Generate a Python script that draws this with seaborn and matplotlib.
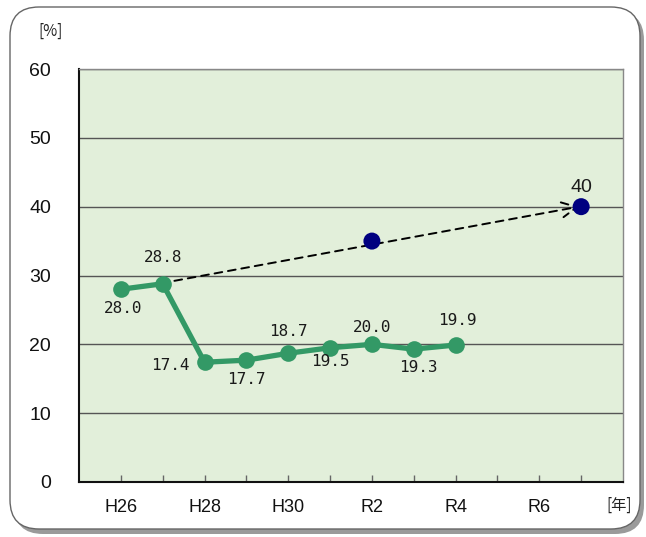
import matplotlib
matplotlib.use("Agg")
import matplotlib.pyplot as plt
from matplotlib.patches import FancyBboxPatch
import seaborn as sns
import pandas as pd

# ---- data ----
years = ["H26", "H27", "H28", "H29", "H30", "R1", "R2", "R3", "R4", "R5", "R6", "R7"]
actual_years = ["H26", "H27", "H28", "H29", "H30", "R1", "R2", "R3", "R4"]
actual_values = [28.0, 28.8, 17.4, 17.7, 18.7, 19.5, 20.0, 19.3, 19.9]
actual_labels = ["28.0", "28.8", "17.4", "17.7", "18.7", "19.5", "20.0", "19.3", "19.9"]
target_years = ["R2", "R7"]
target_values = [35, 40]
tick_labels = ["H26", "", "H28", "", "H30", "", "R2", "", "R4", "", "R6", ""]
y_ticks = [0, 10, 20, 30, 40, 50, 60]

# label placement (offsets in points)
label_offsets = [(2, -14), (0, 19), (-25, -2), (0, -14), (0, 16), (0, -10), (0, 12), (3, -13), (1, 18)]

idx = {y: i for i, y in enumerate(years)}
df_act = pd.DataFrame({"x": [idx[y] for y in actual_years], "v": actual_values})
df_tgt = pd.DataFrame({"x": [idx[y] for y in target_years], "v": target_values})

sns.set_theme(style="white")
plt.rcParams["font.family"] = ["Liberation Sans Narrow", "Liberation Sans", "DejaVu Sans"]

W, H = 646, 537
fig = plt.figure(figsize=(W / 100, H / 100), dpi=100)
fig.patch.set_facecolor("white")

# rounded frame with shadow
shadow = FancyBboxPatch((14 / W, 3 / H), 630 / W, 523 / H,
                        boxstyle="round,pad=0,rounding_size=0.045",
                        transform=fig.transFigure, facecolor="#9a9a9a", edgecolor="none",
                        mutation_aspect=W / H, zorder=0)
fig.patches.append(shadow)
frame = FancyBboxPatch((10 / W, 8 / H), 630 / W, 522 / H,
                       boxstyle="round,pad=0,rounding_size=0.045",
                       transform=fig.transFigure, facecolor="white", edgecolor="#666666",
                       linewidth=1.0, mutation_aspect=W / H, zorder=1)
fig.patches.append(frame)

ax = fig.add_axes([79 / W, (H - 482) / H, (623 - 79) / W, (482 - 69) / H])
ax.set_zorder(2)
ax.set_facecolor("#E2EFDA")

ax.set_xlim(-1, 12)
ax.set_ylim(0, 60)
ax.set_yticks(y_ticks)
ax.yaxis.grid(True, color="#555555", linewidth=1.0)
ax.set_axisbelow(True)

# dashed target arrow
ax.annotate("", xy=(idx["R7"] - 0.05, 40), xytext=(idx["H26"], 27.8),
            arrowprops=dict(arrowstyle="->,head_length=0.9,head_width=0.45", linestyle=(0, (4, 3)),
                            color="black", linewidth=1.4, shrinkA=0, shrinkB=0), zorder=3)

sns.lineplot(data=df_act, x="x", y="v", ax=ax, color="#339966", linewidth=3.8,
             marker="o", markersize=12, markeredgewidth=0, zorder=4)
sns.scatterplot(data=df_tgt, x="x", y="v", ax=ax, color="#000080", s=150,
                edgecolor="none", zorder=5)

for x, v, lab, off in zip(df_act["x"], actual_values, actual_labels, label_offsets):
    ax.annotate(lab, (x, v), xytext=off, textcoords="offset points", ha="center", va="center",
                fontsize=11.5, family=["DejaVu Sans Mono"], color="#1a1a1a", zorder=6)
ax.annotate(str(target_values[-1]), (idx["R7"], 40), xytext=(0, 14), textcoords="offset points",
            ha="center", va="center", fontsize=14, color="#1a1a1a", zorder=6)

ax.set_xticks(range(len(years)))
ax.set_xticklabels(tick_labels)
ax.set_xlabel("")
ax.set_ylabel("")
ax.tick_params(axis="x", direction="in", length=5, width=1, color="#666666", pad=12,
               labelsize=13, labelcolor="#111111")
ax.tick_params(axis="y", length=0, pad=20, labelsize=14, labelcolor="#111111")
ax.xaxis.set_ticks_position("bottom")

for s in ["top", "right"]:
    ax.spines[s].set_color("#888888")
    ax.spines[s].set_linewidth(1.0)
ax.spines["left"].set_color("#111111")
ax.spines["left"].set_linewidth(1.5)
ax.spines["bottom"].set_color("#111111")
ax.spines["bottom"].set_linewidth(1.5)

fig.text(51 / W, 1 - 31 / H, "[%]", fontsize=11, ha="center", va="center",
         family=["Noto Sans CJK JP", "DejaVu Sans"], color="#222222", zorder=3)
fig.text(619 / W, 1 - 505 / H, "[年]", fontsize=11, ha="center", va="center",
         family=["Noto Sans CJK JP", "DejaVu Sans"], color="#222222", zorder=3)

fig.savefig("out.png", dpi=100, facecolor="white")
